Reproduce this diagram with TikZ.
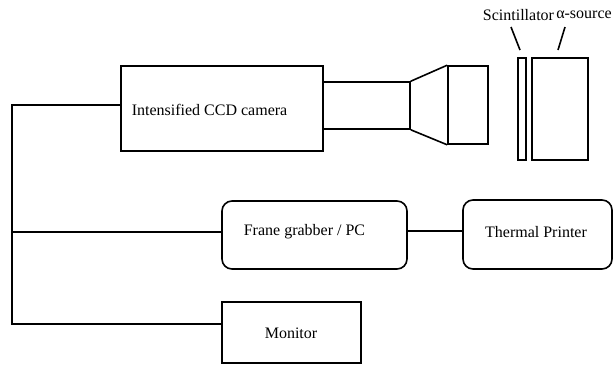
\documentclass[tikz,border=0pt]{standalone}
\usepackage{fontspec}
\setmainfont{Liberation Serif}
\begin{document}
\begin{tikzpicture}[x=1bp,y=-1bp,
  line width=1.6bp,
  box/.style={draw, rectangle, inner sep=0pt},
  rbox/.style={box, rounded corners=10bp},
  lbl/.style={inner sep=0pt, font=\fontsize{16bp}{19bp}\selectfont},
  wire/.style={draw}]
\useasboundingbox (0,0) rectangle (613,365);

% camera with tube, cone and lens
\node[box, minimum width=202bp, minimum height=85bp] (cam) at (222,108.5) {};
\node[lbl, anchor=west] (camtxt) at (131,110) {Intensified CCD camera};
\node[box, minimum width=87bp, minimum height=47bp] (tube) at (366.5,105.5) {};
\node[box, minimum width=40bp, minimum height=78bp] (lens) at (468,105) {};
\draw (tube.north east) -- (lens.north west);
\draw (tube.south east) -- (lens.south west);

% scintillator and alpha source
\node[box, minimum width=8bp, minimum height=102bp] (scint) at (522,109) {};
\node[box, minimum width=56bp, minimum height=102bp] (src) at (560,109) {};
\node[lbl] (scinttxt) at (518.5,15) {Scintillator};
\node[lbl] (srctxt) at (584,15) {α-source};
\coordinate (sa) at (511,27); \coordinate (sb) at (520,50);
\coordinate (qa) at (565,27); \coordinate (qb) at (558,50);
\draw (sa) -- (sb);
\draw (qa) -- (qb);

% processing and output units
\node[rbox, minimum width=185bp, minimum height=68bp] (fg) at (314.5,235) {};
\node[lbl] (fgtxt) at (304.5,232) {Frane grabber / PC};
\node[rbox, minimum width=149bp, minimum height=69bp] (tp) at (537.5,234.5) {};
\node[lbl] (tptxt) at (536,232) {Thermal Printer};
\node[box, minimum width=139bp, minimum height=61bp] (mon) at (291.5,332.5) {};
\node[lbl] (montxt) at (291,333) {Monitor};

% signal bus
\coordinate (j1) at (12,105);
\coordinate (j2) at (12,232);
\coordinate (j3) at (12,324);
\draw (cam.west |- j1) -- (j1) -- (j3) -- (mon.west |- j3);
\draw (j2) -- (fg.west |- j2);
\coordinate (k) at (0,231);
\draw (fg.east |- k) -- (tp.west |- k);
\end{tikzpicture}
\end{document}
